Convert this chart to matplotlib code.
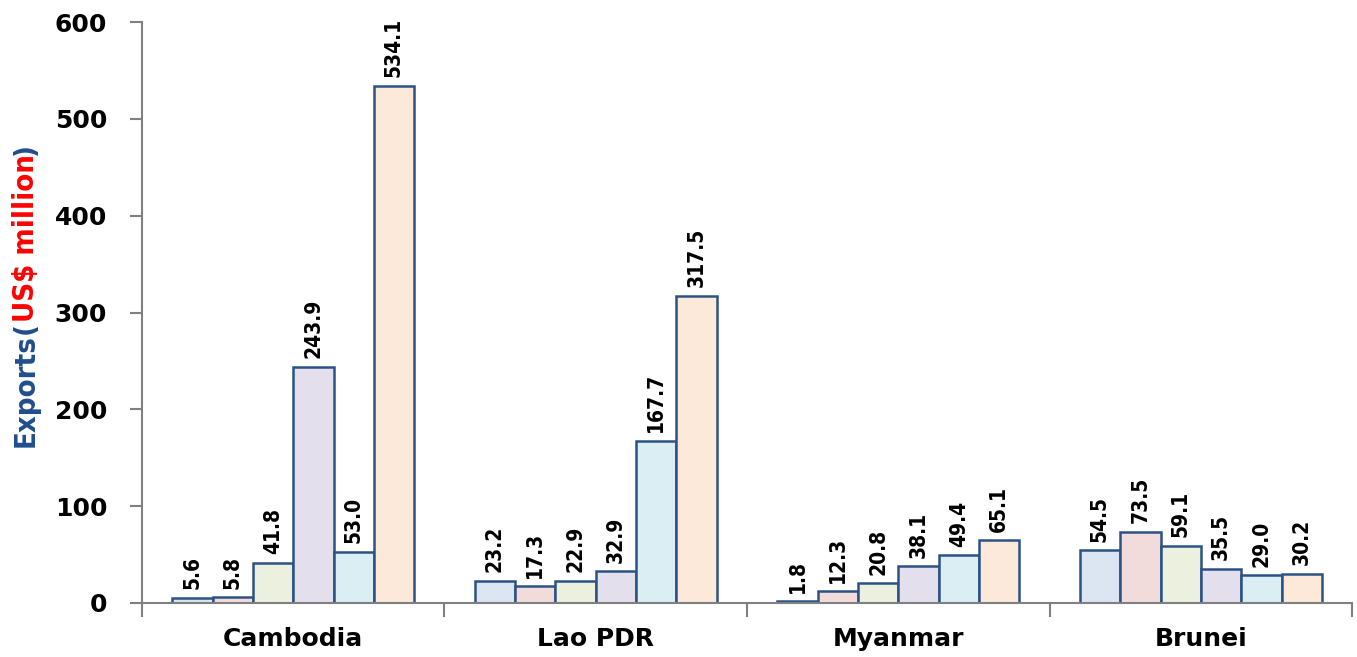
import numpy as np
import matplotlib.pyplot as plt
from matplotlib.ticker import FixedLocator

countries = ['Cambodia', 'Lao PDR', 'Myanmar', 'Brunei']
series = [
    [5.6, 23.2, 1.8, 54.5],
    [5.8, 17.3, 12.3, 73.5],
    [41.8, 22.9, 20.8, 59.1],
    [243.9, 32.9, 38.1, 35.5],
    [53.0, 167.7, 49.4, 29.0],
    [534.1, 317.5, 65.1, 30.2],
]
fills = ['#DCE6F2', '#F2DCDB', '#EBF1DE', '#E4DFEC', '#DAEEF3', '#FDE9D9']
edge = '#2C5285'
narrow = dict(family='DejaVu Sans', fontstretch='condensed', fontweight='bold')

fig = plt.figure(figsize=(13.57, 6.57), dpi=100)
ax = fig.add_axes([0.1046, 0.0822, 0.8918, 0.8843])

x = np.arange(len(countries))
w = 0.8 / len(series)
for i, vals in enumerate(series):
    pos = x - 0.4 + w * (i + 0.5)
    ax.bar(pos, vals, width=w, color=fills[i], edgecolor=edge, linewidth=1.8, zorder=2)
    for px, v in zip(pos, vals):
        ax.annotate(f'{v:.1f}', (px, v), xytext=(0, 6), textcoords='offset points',
                    rotation=90, ha='center', va='bottom', fontsize=15,
                    color='black', **narrow)

ax.set_xlim(-0.5, len(countries) - 0.5)
ax.set_ylim(0, 600)
ax.set_yticks(range(0, 601, 100))
ax.tick_params(axis='y', direction='out', length=9, width=1.5, color='#808080',
               labelsize=18, pad=16)
for lab in ax.get_yticklabels():
    lab.set_fontweight('bold')

# category labels centred, separator ticks between groups
ax.set_xticks(x)
ax.set_xticklabels(countries, fontsize=18, fontweight='bold')
ax.tick_params(axis='x', length=0, pad=17)
ax.xaxis.set_minor_locator(FixedLocator(np.arange(-0.5, len(countries), 1.0)))
ax.tick_params(axis='x', which='minor', direction='out', length=10, width=1.5, color='#808080')

for s in ['top', 'right']:
    ax.spines[s].set_visible(False)
for s in ['left', 'bottom']:
    ax.spines[s].set_color('#808080')
    ax.spines[s].set_linewidth(1.5)

# two-colour y-axis title built from chained rotated texts
blue, red = '#1F4E8C', '#FF0000'
fs = 21
t1 = fig.text(0.019, 0.3, 'Exports', rotation=90, ha='center', va='bottom',
              fontsize=fs, color=blue, **narrow)
t2 = ax.annotate('(', xy=(0.5, 1), xycoords=t1, rotation=90, ha='center', va='bottom',
                 fontsize=fs, color=blue, **narrow)
t3 = ax.annotate('US$ million', xy=(0.5, 1), xycoords=t2, rotation=90, ha='center',
                 va='bottom', fontsize=fs, color=red, **narrow)
t4 = ax.annotate(')', xy=(0.5, 1), xycoords=t3, rotation=90, ha='center', va='bottom',
                 fontsize=fs, color=blue, **narrow)

# centre the whole title vertically on the plot area
fig.canvas.draw()
r = fig.canvas.get_renderer()
y0 = t1.get_window_extent(r).y0
y1 = t4.get_window_extent(r).y1
mid = 657 - 295
t1.set_y(0.3 + (mid - (y0 + y1) / 2) / 657)

fig.savefig('out.png', dpi=100)
